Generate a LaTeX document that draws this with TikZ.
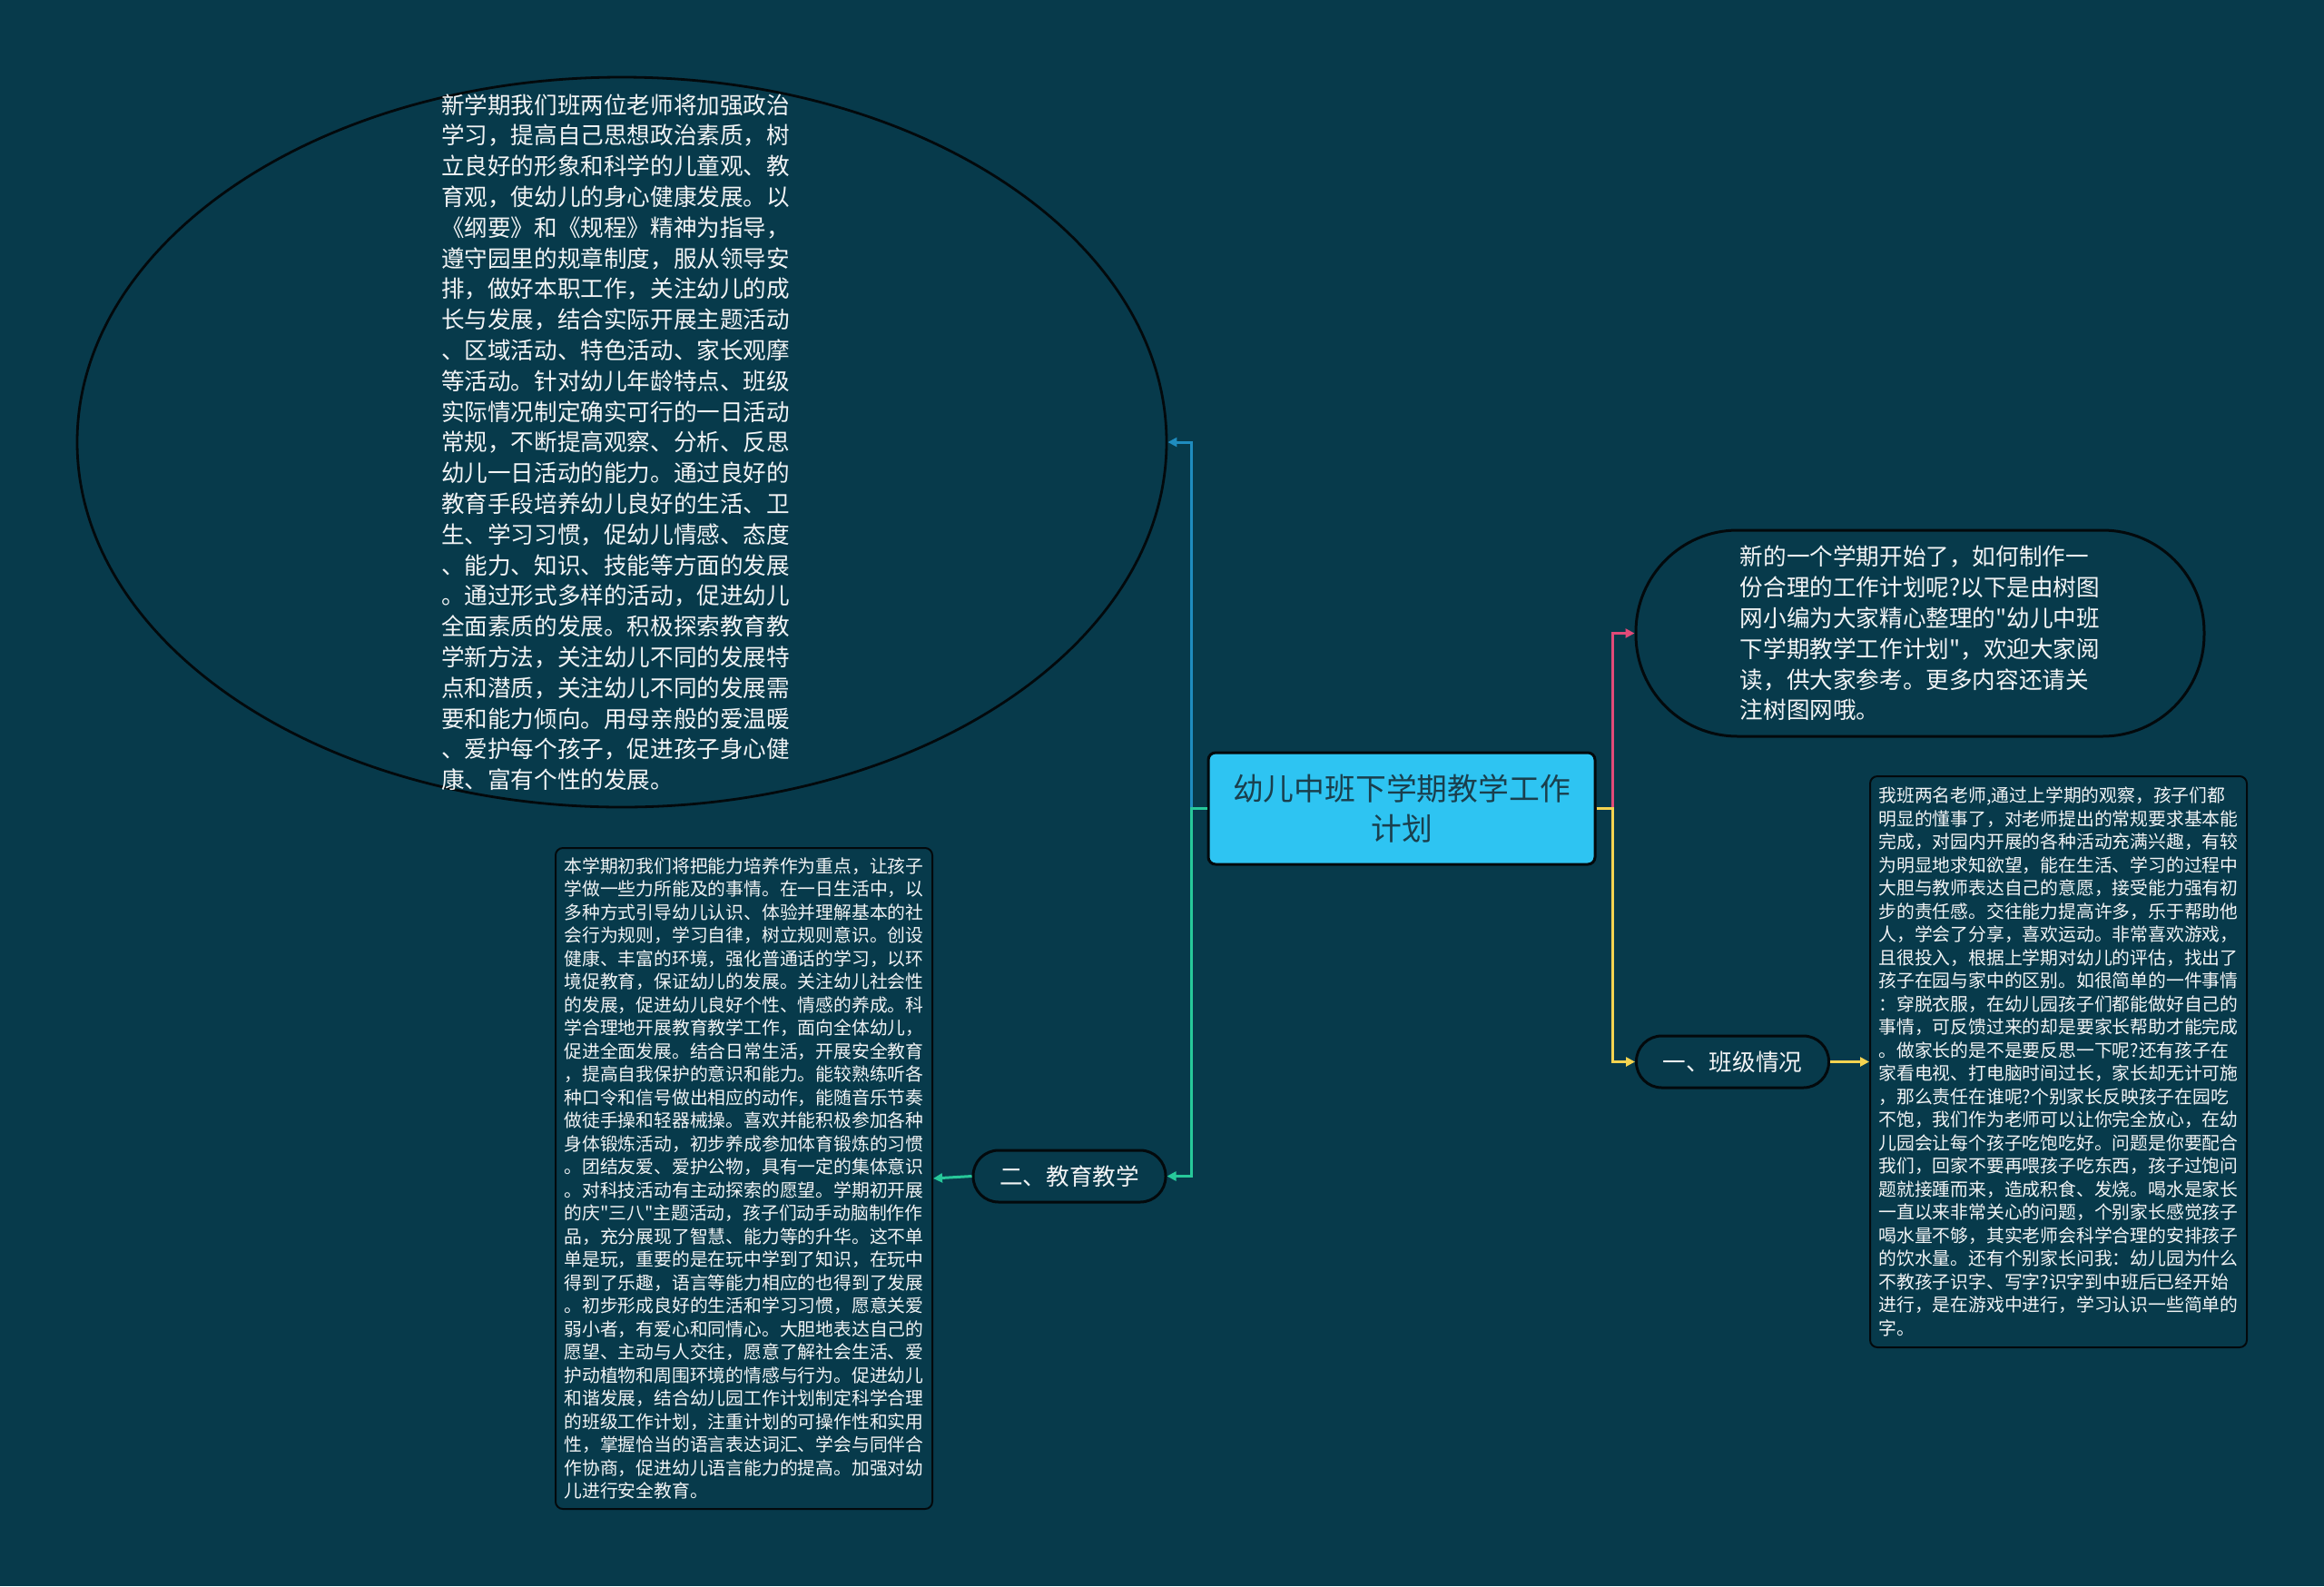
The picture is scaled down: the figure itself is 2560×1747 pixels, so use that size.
\documentclass[tikz,border=0pt]{standalone}
\usepackage{fontspec}
\newfontfamily\cjk{Noto Sans CJK SC}
\usetikzlibrary{arrows.meta,shapes.geometric}
\definecolor{bgteal}{HTML}{073A4B}
\definecolor{hubcyan}{HTML}{2EC4F2}
\definecolor{hubink}{HTML}{1A3F4D}
\definecolor{edgeblue}{HTML}{1F8CBF}
\definecolor{edgegreen}{HTML}{27C89A}
\definecolor{edgepink}{HTML}{E24A78}
\definecolor{edgeyellow}{HTML}{F4D350}
\definecolor{inkdark}{HTML}{03090C}
\definecolor{paper}{HTML}{F2F4F5}

\begin{document}
\begin{tikzpicture}[
  x=0.5pt, y=-0.5pt,
  >={Triangle[length=5pt,width=5pt]},
  every node/.style={text=paper},
  link/.style={line width=1.5pt,->},
  bigfont/.style={font=\cjk\fontsize{12.8pt}{16.9pt}\selectfont},
  smallfont/.style={font=\cjk\fontsize{9.9pt}{12.75pt}\selectfont},
  topic/.style={bigfont,draw=inkdark,line width=1.5pt,fill=bgteal,
    rounded corners=14pt,minimum width=106pt,minimum height=28.5pt},
  memo/.style={smallfont,draw=inkdark,line width=1pt,fill=bgteal,
    rounded corners=4pt,minimum width=207.5pt,inner sep=0pt,align=left}
]
  \fill[bgteal] (0,0) rectangle (2560,1747);

  \node[fill=hubcyan,draw=inkdark,line width=1.5pt,rounded corners=4pt,
    minimum width=213pt,minimum height=61.5pt,text=hubink,align=center,
    font=\cjk\fontsize{16.9pt}{22pt}\selectfont] (hub) at (1544,890.5)
    {幼儿中班下学期教学工作\\计划};

  \node[ellipse,draw=inkdark,line width=1.4pt,minimum width=600pt,
    minimum height=402pt,inner sep=0pt] (goals) at (685,487) {};
  \node[bigfont,align=left,inner sep=0pt] (goalstext) at ([xshift=-3.5pt]goals.center)
    {新学期我们班两位老师将加强政治\\
     学习，提高自己思想政治素质，树\\
     立良好的形象和科学的儿童观、教\\
     育观，使幼儿的身心健康发展。以\\
     《纲要》和《规程》精神为指导，\\
     遵守园里的规章制度，服从领导安\\
     排，做好本职工作，关注幼儿的成\\
     长与发展，结合实际开展主题活动\\
     、区域活动、特色活动、家长观摩\\
     等活动。针对幼儿年龄特点、班级\\
     实际情况制定确实可行的一日活动\\
     常规，不断提高观察、分析、反思\\
     幼儿一日活动的能力。通过良好的\\
     教育手段培养幼儿良好的生活、卫\\
     生、学习习惯，促幼儿情感、态度\\
     、能力、知识、技能等方面的发展\\
     。通过形式多样的活动，促进幼儿\\
     全面素质的发展。积极探索教育教\\
     学新方法，关注幼儿不同的发展特\\
     点和潜质，关注幼儿不同的发展需\\
     要和能力倾向。用母亲般的爱温暖\\
     、爱护每个孩子，促进孩子身心健\\
     康、富有个性的发展。};

  \node[bigfont,draw=inkdark,line width=1.5pt,fill=bgteal,rounded corners=56pt,
    minimum width=313pt,minimum height=113.5pt,inner sep=0pt,align=left]
    (intro) at (2115,697.5)
    {新的一个学期开始了，如何制作一\\
     份合理的工作计划呢?以下是由树图\\
     网小编为大家精心整理的"幼儿中班\\
     下学期教学工作计划"，欢迎大家阅\\
     读，供大家参考。更多内容还请关\\
     注树图网哦。};

  \node[topic] (class) at (1908.5,1169.5) {一、班级情况};
  \node[topic] (teach) at (1178,1295.5) {二、教育教学};

  \node[memo,minimum height=314.5pt] (classnote) at (2267.5,1169.5)
    {我班两名老师,通过上学期的观察，孩子们都\\
     明显的懂事了，对老师提出的常规要求基本能\\
     完成，对园内开展的各种活动充满兴趣，有较\\
     为明显地求知欲望，能在生活、学习的过程中\\
     大胆与教师表达自己的意愿，接受能力强有初\\
     步的责任感。交往能力提高许多，乐于帮助他\\
     人，学会了分享，喜欢运动。非常喜欢游戏，\\
     且很投入，根据上学期对幼儿的评估，找出了\\
     孩子在园与家中的区别。如很简单的一件事情\\
     ：穿脱衣服，在幼儿园孩子们都能做好自己的\\
     事情，可反馈过来的却是要家长帮助才能完成\\
     。做家长的是不是要反思一下呢?还有孩子在\\
     家看电视、打电脑时间过长，家长却无计可施\\
     ，那么责任在谁呢?个别家长反映孩子在园吃\\
     不饱，我们作为老师可以让你完全放心，在幼\\
     儿园会让每个孩子吃饱吃好。问题是你要配合\\
     我们，回家不要再喂孩子吃东西，孩子过饱问\\
     题就接踵而来，造成积食、发烧。喝水是家长\\
     一直以来非常关心的问题，个别家长感觉孩子\\
     喝水量不够，其实老师会科学合理的安排孩子\\
     的饮水量。还有个别家长问我：幼儿园为什么\\
     不教孩子识字、写字?识字到中班后已经开始\\
     进行，是在游戏中进行，学习认识一些简单的\\
     字。};

  \node[memo,minimum height=364pt] (teachnote) at (819.5,1298)
    {本学期初我们将把能力培养作为重点，让孩子\\
     学做一些力所能及的事情。在一日生活中，以\\
     多种方式引导幼儿认识、体验并理解基本的社\\
     会行为规则，学习自律，树立规则意识。创设\\
     健康、丰富的环境，强化普通话的学习，以环\\
     境促教育，保证幼儿的发展。关注幼儿社会性\\
     的发展，促进幼儿良好个性、情感的养成。科\\
     学合理地开展教育教学工作，面向全体幼儿，\\
     促进全面发展。结合日常生活，开展安全教育\\
     ，提高自我保护的意识和能力。能较熟练听各\\
     种口令和信号做出相应的动作，能随音乐节奏\\
     做徒手操和轻器械操。喜欢并能积极参加各种\\
     身体锻炼活动，初步养成参加体育锻炼的习惯\\
     。团结友爱、爱护公物，具有一定的集体意识\\
     。对科技活动有主动探索的愿望。学期初开展\\
     的庆"三八"主题活动，孩子们动手动脑制作作\\
     品，充分展现了智慧、能力等的升华。这不单\\
     单是玩，重要的是在玩中学到了知识，在玩中\\
     得到了乐趣，语言等能力相应的也得到了发展\\
     。初步形成良好的生活和学习习惯，愿意关爱\\
     弱小者，有爱心和同情心。大胆地表达自己的\\
     愿望、主动与人交往，愿意了解社会生活、爱\\
     护动植物和周围环境的情感与行为。促进幼儿\\
     和谐发展，结合幼儿园工作计划制定科学合理\\
     的班级工作计划，注重计划的可操作性和实用\\
     性，掌握恰当的语言表达词汇、学会与同伴合\\
     作协商，促进幼儿语言能力的提高。加强对幼\\
     儿进行安全教育。};

  \draw[link,edgeblue] (hub.west) -- ++(-17,0) |- (goals.east);
  \draw[link,edgegreen] (hub.west) -- ++(-17,0) |- (teach.east);
  \draw[link,edgepink] (hub.east) -- ++(18,0) |- (intro.west);
  \draw[link,edgeyellow] (hub.east) -- ++(18,0) |- (class.west);
  \draw[link,edgeyellow] (class.east) -- (classnote.west);
  \draw[link,edgegreen] (teach.west) -- (teachnote.east);
\end{tikzpicture}
\end{document}
